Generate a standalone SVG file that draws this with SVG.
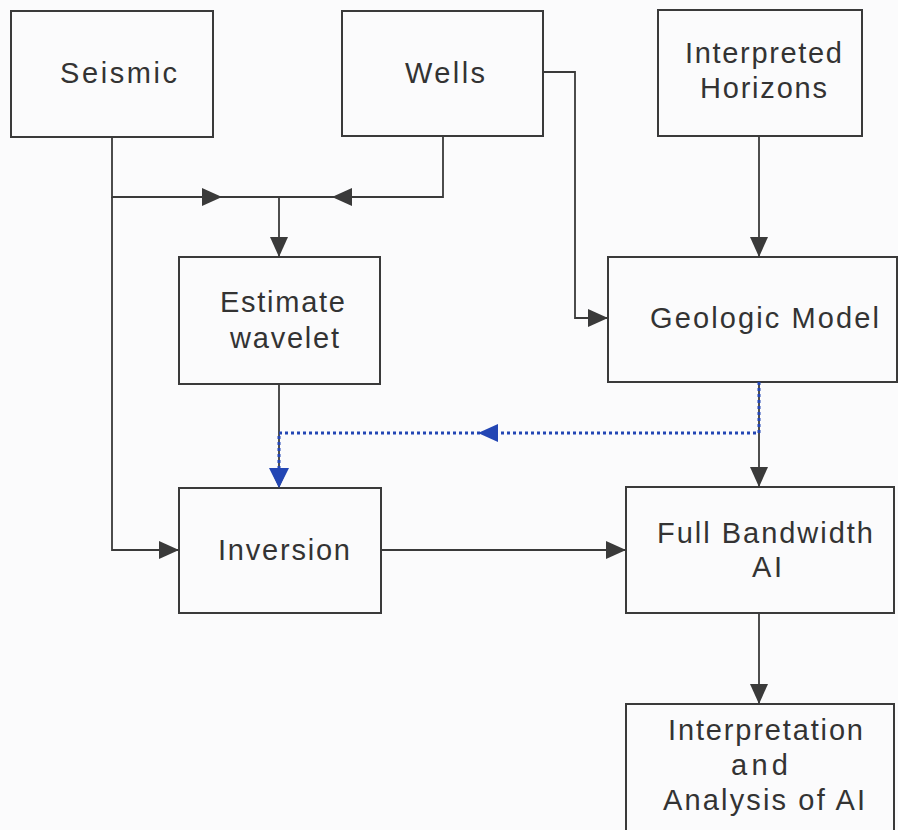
<svg xmlns="http://www.w3.org/2000/svg" width="898" height="830" viewBox="0 0 898 830">
<defs>
<marker id="ah" markerUnits="userSpaceOnUse" markerWidth="22" markerHeight="20" refX="20" refY="9" orient="auto"><path d="M0,0 L20,9 L0,18 z" fill="#3a3a3a"/></marker>
<style>
.box{fill:none;stroke:#3a3a3a;stroke-width:2}
.t{font-family:"Liberation Sans",Arial,sans-serif;font-size:29px;fill:#333}
.c{fill:none;stroke:#3a3a3a;stroke-width:1.8}
.b{fill:none;stroke:#2346b4;stroke-width:3;stroke-dasharray:3 3}
</style>
</defs>
<rect width="898" height="830" fill="#fbfbfc"/>
<g id="seismic"><rect class="box" x="11" y="11" width="202" height="126"/><text class="t" x="60" y="83" textLength="117" lengthAdjust="spacing">Seismic</text></g>
<g id="wells"><rect class="box" x="342" y="11" width="201" height="125"/><text class="t" x="405" y="83" textLength="80" lengthAdjust="spacing">Wells</text></g>
<g id="horizons"><rect class="box" x="658" y="10" width="204" height="126"/><text class="t" x="685" y="63" textLength="157" lengthAdjust="spacing">Interpreted</text><text class="t" x="700" y="98" textLength="127" lengthAdjust="spacing">Horizons</text></g>
<g id="wavelet"><rect class="box" x="179" y="257" width="201" height="127"/><text class="t" x="220" y="312" textLength="125" lengthAdjust="spacing">Estimate</text><text class="t" x="230" y="348" textLength="109" lengthAdjust="spacing">wavelet</text></g>
<g id="geomodel"><rect class="box" x="608" y="257" width="289" height="125"/><text class="t" x="650" y="328" textLength="229" lengthAdjust="spacing">Geologic Model</text></g>
<g id="inversion"><rect class="box" x="179" y="488" width="202" height="125"/><text class="t" x="218" y="560" textLength="132" lengthAdjust="spacing">Inversion</text></g>
<g id="fullbw"><rect class="box" x="626" y="487" width="268" height="126"/><text class="t" x="657" y="543" textLength="216" lengthAdjust="spacing">Full Bandwidth</text><text class="t" x="752" y="577" textLength="30" lengthAdjust="spacing">AI</text></g>
<g id="interp"><rect class="box" x="626" y="704" width="268" height="140"/><text class="t" x="668" y="740" textLength="195" lengthAdjust="spacing">Interpretation</text><text class="t" x="731" y="775" textLength="57" lengthAdjust="spacing">and</text><text class="t" x="663" y="810" textLength="202" lengthAdjust="spacing">Analysis of AI</text></g>
<g id="connectors">
<path class="c" d="M112,137 V197 H222" marker-end="url(#ah)"/>
<path class="c" d="M222,197 H279"/>
<path class="c" d="M443,137 V197 H332" marker-end="url(#ah)"/>
<path class="c" d="M332,197 H279"/>
<path class="c" d="M279,197 V257" marker-end="url(#ah)"/>
<path class="c" d="M112,197 V550 H179" marker-end="url(#ah)"/>
<path class="c" d="M543,72 H575 V318 H608" marker-end="url(#ah)"/>
<path class="c" d="M759,136 V257" marker-end="url(#ah)"/>
<path class="c" d="M279,384 V488" marker-end="url(#ah)"/>
<path class="c" d="M759,382 V487" marker-end="url(#ah)"/>
<path class="c" d="M381,550 H626" marker-end="url(#ah)"/>
<path class="c" d="M759,613 V704" marker-end="url(#ah)"/>
<path class="b" d="M759,382 V433 H279 V468"/>
<path d="M269,468 L289,468 L279,488 z" fill="#2346b4"/>
<path d="M498,424 L478,433 L498,442 z" fill="#2346b4"/>
</g>
</svg>
